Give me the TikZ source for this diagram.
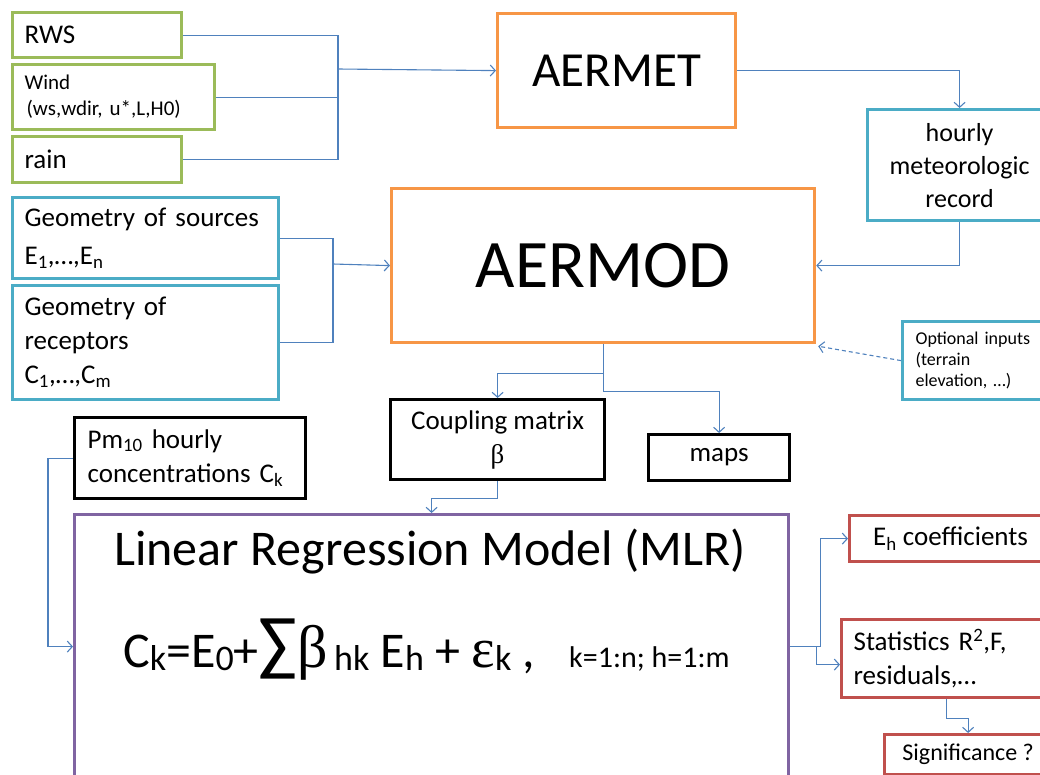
\documentclass[tikz,border=0pt]{standalone}
\usepackage{fontspec}
\setmainfont{Carlito}
\newfontfamily\symbfont{Liberation Serif}
\usepackage{tikz}
\usetikzlibrary{arrows.meta,positioning}
\definecolor{boxgreen}{RGB}{155,187,89}
\definecolor{boxorange}{RGB}{247,150,70}
\definecolor{boxteal}{RGB}{75,172,198}
\definecolor{boxpurple}{RGB}{128,100,162}
\definecolor{boxred}{RGB}{192,80,77}
\definecolor{linkblue}{RGB}{79,129,189}
\newcommand\setfs[2]{\fontsize{#1}{#2}\selectfont}
\newcommand\lowsub[1]{\raisebox{-3pt}{\setfs{36}{36}#1}}

\begin{document}
\begin{tikzpicture}[x=1pt,y=-1pt,>={Straight Barb[length=5pt,width=11pt]},
  box/.style={draw,line width=3.2pt,anchor=north west,inner sep=0pt,align=center,font=\setfs{27}{34}},
  lbox/.style={box,align=left,inner xsep=12pt},
  boxsize/.style 2 args={minimum width=#1,minimum height=#2},
  link/.style={draw=linkblue,line width=1.1pt},
  ]
\useasboundingbox (0,0) rectangle (1040,774);
\clip (0,0) rectangle (1040,774);
\node[lbox,draw=boxgreen,text width=145pt,minimum height=45] (rws) at (11,11) {RWS};
\node[lbox,draw=boxgreen,text width=178pt,minimum height=65,font=\setfs{21}{27}] (wind) at (11,63) {\begin{tabular}{@{}l@{}}Wind\\[-1pt]\hspace*{2pt}(ws,wdir, u*,L,H0)\end{tabular}};
\node[lbox,draw=boxgreen,text width=145pt,minimum height=46] (rain) at (11,135) {rain};
\node[box,draw=boxorange,boxsize={238}{114},font=\setfs{49}{59}] (aermet) at (496,12) {AERMET};
\node[box,draw=boxteal,boxsize={184}{111},font=\setfs{26}{33}] (hourly) at (866,108) {hourly\\meteorologic\\record};
\node[lbox,draw=boxteal,text width=242pt,minimum height=81,font=\setfs{27}{38}] (sources) at (11,196) {Geometry of sources\\E\textsubscript{1},…,E\textsubscript{n}};
\node[lbox,draw=boxteal,text width=242pt,minimum height=114,font=\setfs{27}{34}] (receptors) at (11,284) {Geometry of\\receptors\\C\textsubscript{1},…,C\textsubscript{m}};
\node[box,draw=boxorange,boxsize={423}{154},font=\setfs{68}{80}] (aermod) at (390,187) {AERMOD};
\node[lbox,draw=boxteal,inner xsep=13pt,text width=123pt,minimum height=78,font=\setfs{18}{21}] (optional) at (901,320) {Optional inputs\\(terrain\\elevation, …)};
\node[box,boxsize={214}{80},font=\setfs{27}{34}] (coupling) at (389,398) {Coupling matrix\\{\symbfont β}};
\node[box,boxsize={141}{46}] (maps) at (647,433) {maps};
\node[lbox,inner xsep=13pt,text width=205pt,minimum height=81,font=\setfs{27}{34}] (pm10) at (73,416) {Pm\textsubscript{10} hourly\\concentrations C\textsubscript{k}};
\node[box,draw=boxpurple,boxsize={714}{264}] (mlr) at (73,513) {};
\node[font=\setfs{50}{60},anchor=base] (mlrtitle) at (430,565) {Linear Regression Model (MLR)};
\node[font=\setfs{50}{60},anchor=base west,inner sep=0pt] (mlreq) at (123,667) {C\lowsub{k}=E\lowsub{0}+{\setfs{72}{72}∑}{\symbfont\setfs{60}{60}β}\lowsub{\,hk} E\lowsub{h} + {\symbfont\setfs{56}{56}ε}\lowsub{k} ,};
\node[font=\setfs{30}{36},anchor=base west,inner sep=0pt] (mlrrange) at (569,667) {k=1:n; h=1:m};
\node[box,draw=boxred,boxsize={202}{46}] (eh) at (848,514) {E\textsubscript{h} coefficients};
\node[lbox,draw=boxred,text width=186pt,minimum height=78] (stats) at (840,618) {Statistics R\textsuperscript{2},F,\\residuals,…};
\node[box,draw=boxred,boxsize={167}{40},font=\setfs{24}{29}] (signif) at (883,733) {Significance ?};

\coordinate (metjoin) at (338,69);
\draw[link] (rws.east) -| (metjoin);
\draw[link] (wind.east) -- (wind.east -| metjoin);
\draw[link] (rain.east) -| (metjoin);
\draw[link,->] (metjoin) -- (aermet.west);
\draw[link,->] (aermet.east) -| (hourly.north);
\coordinate (geojoin) at (333,264);
\draw[link] (sources.east) -| (geojoin);
\draw[link] (receptors.east) -| (geojoin);
\draw[link,->] (geojoin) -- (aermod.west);
\draw[link,->] (hourly.south) |- (aermod.east);
\draw[link,dash pattern=on 4pt off 3pt,->] (optional.west) -- ([xshift=2pt,yshift=-2pt]aermod.south east);
\coordinate (modsplit) at ([yshift=-29pt]aermod.south);
\draw[link,->] (aermod.south) -- (modsplit) -| (coupling.north);
\draw[link,->] (modsplit) -- ++(0,18) -| (maps.north);
\draw[link,->] (coupling.south) -- ++(0,17) -| (mlr.north);
\draw[link,->] (pm10.west) -- ++(-25,0) |- (mlr.west);
\draw[link,->] (mlr.east) -- ++(30,0) |- (eh.west);
\draw[link,->] (mlr.east) ++(26,0) |- ([yshift=-6pt]stats.west);
\draw[link,->] (stats.south) -- ++(0,19) -| (signif.north);
\end{tikzpicture}
\end{document}
